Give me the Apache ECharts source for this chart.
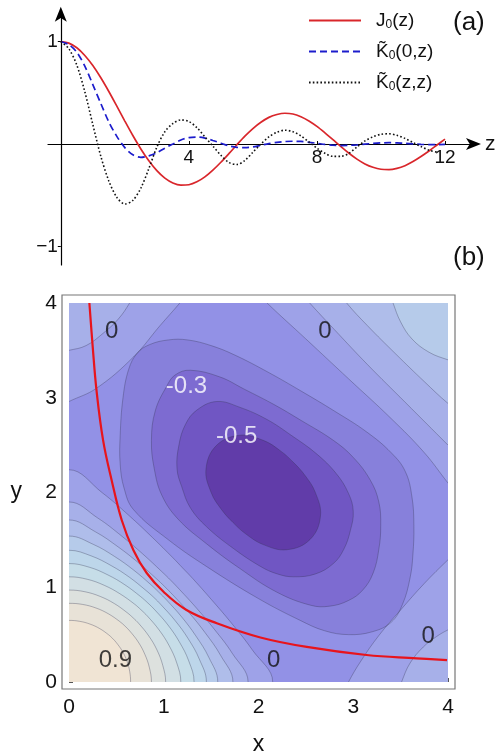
<!DOCTYPE html>
<html><head><meta charset="utf-8">
<script src="https://cdn.jsdelivr.net/npm/echarts@6/dist/echarts.min.js"></script>
<style>html,body{margin:0;padding:0;background:#fff}#c{width:503px;height:751px}</style>
</head><body><div id="c"></div><script>
// ---------- panel (a) data ----------
const zGrid = [0,0.25,0.5,0.75,1,1.25,1.5,1.75,2,2.25,2.5,2.75,3,3.25,3.5,3.75,4,4.25,4.5,4.75,5,5.25,5.5,5.75,6,6.25,6.5,6.75,7,7.25,7.5,7.75,8,8.25,8.5,8.75,9,9.25,9.5,9.75,10,10.25,10.5,10.75,11,11.25,11.5,11.75,12];
const j0Vals = [1,0.984,0.939,0.864,0.765,0.646,0.512,0.369,0.224,0.083,-0.048,-0.164,-0.260,-0.333,-0.380,-0.401,-0.397,-0.369,-0.321,-0.255,-0.178,-0.094,-0.007,0.077,0.151,0.212,0.260,0.288,0.300,0.293,0.266,0.225,0.172,0.109,0.042,-0.026,-0.090,-0.147,-0.194,-0.227,-0.246,-0.249,-0.237,-0.211,-0.171,-0.122,-0.068,-0.010,0.048];
const k00Vals = [1,0.97,0.895,0.76,0.58,0.395,0.215,0.075,-0.035,-0.105,-0.13,-0.115,-0.085,-0.04,0.0,0.04,0.062,0.068,0.058,0.035,0.008,-0.018,-0.033,-0.036,-0.028,-0.012,0.004,0.016,0.024,0.027,0.025,0.017,0.007,-0.004,-0.012,-0.015,-0.013,-0.008,-0.001,0.006,0.011,0.013,0.011,0.007,0.002,-0.003,-0.006,-0.006,-0.004];
const kzzVals = [1,0.93,0.77,0.51,0.19,-0.12,-0.36,-0.52,-0.585,-0.55,-0.43,-0.24,-0.03,0.12,0.2,0.235,0.22,0.16,0.07,-0.02,-0.11,-0.18,-0.2,-0.16,-0.08,0.0,0.07,0.115,0.135,0.12,0.08,0.02,-0.04,-0.09,-0.12,-0.12,-0.09,-0.03,0.03,0.07,0.095,0.1,0.085,0.055,0.015,-0.025,-0.06,-0.08];
const zTicks = [4,8,12];
const vTicks = [-1,1];

// ---------- panel (b) data ----------
const xyTicks = [0,1,2,3,4];
// band colours, by lower bound of band from -0.6 to 0.9 (step 0.1)
const bandColors = ['#613ca9','#7056c3','#7d6bd1','#8780db','#8d89e0','#9291e6','#9ea2e8','#a7b0e9','#afbdea','#b6cbea','#bdd6ea','#c6dde8','#d2dfe4','#dde1de','#e8e2d7','#f0e4d4'];
const backgroundBand = -0.1;
// bump around the origin: radii at given angles (deg)
const bumpAngles = [-10,0,10,20,30,40,45,50,60,70,80,90,100];
const bumpLevels = [0.0,0.1,0.2,0.3,0.4,0.5,0.6,0.7,0.8,0.9];
const bumpRadii = [
  [1.963,2.15,1.963,1.823,1.737,1.702,1.699,1.709,1.761,1.865,2.027,2.24,2.027],
  [1.749,1.89,1.749,1.631,1.556,1.521,1.518,1.522,1.559,1.636,1.756,1.90,1.756],
  [1.624,1.73,1.624,1.527,1.463,1.430,1.426,1.428,1.457,1.517,1.609,1.71,1.609],
  [1.498,1.57,1.498,1.424,1.373,1.345,1.340,1.342,1.364,1.409,1.475,1.54,1.475],
  [1.396,1.45,1.396,1.338,1.294,1.268,1.264,1.262,1.276,1.306,1.351,1.39,1.351],
  [1.283,1.32,1.283,1.239,1.205,1.183,1.178,1.176,1.183,1.202,1.230,1.25,1.230],
  [1.155,1.18,1.155,1.124,1.098,1.081,1.076,1.074,1.075,1.086,1.101,1.11,1.101],
  [1.005,1.02,1.005,0.988,0.972,0.961,0.957,0.955,0.956,0.961,0.967,0.97,0.967],
  [0.862,0.87,0.862,0.852,0.844,0.837,0.835,0.833,0.831,0.831,0.831,0.83,0.831],
  [0.65,0.65,0.65,0.65,0.65,0.65,0.65,0.65,0.65,0.65,0.65,0.65,0.65]
];
// closed loops around the minimum (value below level inside)
const basinLevels = [-0.2,-0.3,-0.4,-0.5];
const basinLoops = [
  [[0.63,3.3],[0.72,3.47],[0.85,3.56],[1.05,3.61],[1.25,3.61],[1.5,3.55],[1.75,3.45],[2.1,3.27],[2.45,3.07],[2.8,2.86],[3.14,2.64],[3.4,2.42],[3.55,2.22],[3.62,1.95],[3.64,1.65],[3.63,1.35],[3.6,1.1],[3.52,0.82],[3.4,0.63],[3.2,0.53],[2.95,0.5],[2.7,0.54],[2.44,0.65],[2.0,0.88],[1.45,1.22],[1.05,1.5],[0.68,1.82],[0.58,2.05],[0.54,2.3],[0.54,2.6],[0.57,3.0]],
  [[1.03,3.12],[1.12,3.24],[1.28,3.29],[1.59,3.22],[1.85,3.09],[2.16,2.93],[2.45,2.76],[2.79,2.55],[3.0,2.37],[3.18,2.13],[3.27,1.9],[3.29,1.65],[3.27,1.4],[3.21,1.15],[3.1,0.97],[2.95,0.86],[2.75,0.8],[2.55,0.81],[2.19,0.95],[1.8,1.2],[1.45,1.46],[1.15,1.72],[0.98,1.97],[0.9,2.25],[0.87,2.55],[0.91,2.86]],
  [[1.35,2.87],[1.56,2.96],[1.8,2.9],[2.09,2.77],[2.35,2.6],[2.61,2.41],[2.82,2.2],[2.95,1.99],[3.0,1.8],[2.97,1.6],[2.9,1.4],[2.79,1.25],[2.6,1.14],[2.37,1.11],[2.2,1.14],[2.02,1.22],[1.72,1.42],[1.45,1.64],[1.28,1.84],[1.19,2.06],[1.14,2.25],[1.16,2.5],[1.23,2.72]],
  [[2.368,2.318],[2.232,2.439],[2.05,2.55],[1.80,2.604],[1.555,2.495],[1.446,2.25],[1.50,2.0],[1.611,1.818],[1.732,1.682],[1.868,1.561],[2.05,1.45],[2.30,1.396],[2.545,1.505],[2.654,1.75],[2.60,2.0],[2.489,2.182]]
];
// contour lines cut by the frame (value above level towards the corner)
const cornerLevels = [0.0,0.1,0.0,0.1,0.0,0.1,0.2,0.3];
const cornerAnchors = [[-1,5],[-1,5],[5,-1],[5,-1],[5,5],[5,5],[5,5],[5,5]];
const cornerLines = [
  [[-0.12,2.9],[0,2.96],[0.29,3.1],[0.68,3.43],[0.96,3.76],[1.17,4],[1.28,4.14]],
  [[-0.12,3.48],[0,3.5],[0.18,3.55],[0.36,3.68],[0.52,3.83],[0.64,4],[0.7,4.12]],
  [[2.9,-0.12],[2.95,0],[3.08,0.22],[3.27,0.49],[3.5,0.76],[3.75,1.04],[4,1.29],[4.12,1.4]],
  [[3.47,-0.12],[3.51,0],[3.6,0.2],[3.74,0.37],[3.88,0.48],[4,0.55],[4.12,0.6]],
  [[1.98,4.12],[2.09,4],[2.5,3.62],[2.95,3.2],[3.4,2.78],[3.75,2.42],[4,2.1],[4.1,1.98]],
  [[2.44,4.12],[2.54,4],[2.8,3.72],[3.15,3.35],[3.55,2.95],[4,2.5],[4.12,2.38]],
  [[2.85,4.12],[2.93,4],[3.15,3.76],[3.45,3.46],[3.75,3.17],[4,2.94],[4.12,2.86]],
  [[3.38,4.12],[3.42,4],[3.5,3.8],[3.62,3.62],[3.8,3.48],[4,3.4],[4.12,3.37]]
];
// red curve
const redX = [0.215,0.25,0.29,0.36,0.45,0.556,0.68,0.82,1.0,1.24,1.56,2.02,2.51,3.14,3.67,3.99];
const redY = [4.0,3.54,3.08,2.55,2.13,1.71,1.39,1.15,0.95,0.76,0.62,0.47,0.37,0.285,0.25,0.23];
// contour labels
const labelX = [0.45,2.70,1.24,1.77,0.49,2.16,3.79];
const labelY = [3.70,3.70,3.12,2.59,0.23,0.23,0.48];
const labelText = ['0','0','-0.3','-0.5','0.9','0','0'];
const labelWhite = [false,false,true,true,false,false,false];

// ---------- build ----------
function bandColor(lower){
  let i = Math.round((lower + 0.6) * 10);
  i = Math.max(0, Math.min(bandColors.length - 1, i));
  return bandColors[i];
}
const D = Math.PI / 180;
const regions = [];
basinLoops.forEach((loop, k) => {
  regions.push({fill: loop, closed: true, color: bandColor(basinLevels[k] - 0.1)});
});
bumpLevels.forEach((lev, k) => {
  const arc = bumpAngles.map((a, j) => [bumpRadii[k][j] * Math.cos(a * D), bumpRadii[k][j] * Math.sin(a * D)]);
  regions.push({fill: arc.concat([[-1.5,-1.5]]), line: arc, closed: false, color: bandColor(lev)});
});
cornerLines.forEach((ln, k) => {
  regions.push({fill: ln.concat([cornerAnchors[k]]), line: ln, closed: false, color: bandColor(cornerLevels[k])});
});

const FONT = '"Liberation Sans", Arial, Helvetica, sans-serif';
const chart = echarts.init(document.getElementById('c'), null, {renderer: 'canvas'});
const legendNames = {J0: 'J{s|0}(z)', K0: 'K\u0303{s|0}(0,z)', Kz: 'K\u0303{s|0}(z,z)'};

const option = {
  animation: false,
  backgroundColor: '#fff',
  textStyle: {fontFamily: FONT},
  legend: {
    orient: 'vertical', left: 303, top: 6, itemWidth: 52, itemHeight: 14, itemGap: 11,
    data: ['J0','K0','Kz'],
    itemStyle: {opacity: 0},
    formatter: n => legendNames[n],
    textStyle: {fontSize: 19, color: '#111', fontFamily: FONT, padding: [0,0,0,10],
      rich: {s: {fontSize: 12, fontFamily: FONT, color: '#111', padding: [9,0,0,0]}}}
  },
  graphic: [
    {type: 'text', left: 453, top: 10, style: {text: '(a)', fontSize: 26, fontFamily: FONT, fill: '#111'}},
    {type: 'text', left: 453, top: 245, style: {text: '(b)', fontSize: 26, fontFamily: FONT, fill: '#111'}}
  ],
  grid: [
    {left: 48, top: 10.75, width: 429, height: 254.25, outerBoundsMode: 'none', containLabel: false},
    {left: 62, top: 295, width: 393, height: 394, show: true, borderColor: '#777', borderWidth: 1.2, backgroundColor: '#fff', outerBoundsMode: 'none', containLabel: false}
  ],
  xAxis: [
    {gridIndex: 0, type: 'value', min: -0.4, max: 13, position: 'bottom', offset: -121,
     axisLine: {onZero: false, symbol: ['none','arrow'], symbolSize: [9,15], symbolOffset: [0,4], lineStyle: {color: '#000', width: 1.2}},
     axisTick: {customValues: zTicks, inside: true, length: 3, lineStyle: {color: '#000'}},
     axisLabel: {customValues: zTicks, fontSize: 19, margin: 4, color: '#111', fontFamily: FONT},
     splitLine: {show: false},
     name: 'z', nameLocation: 'end', nameGap: 8, nameTextStyle: {fontSize: 21, color: '#111', fontFamily: FONT}},
    {gridIndex: 1, type: 'value', min: -0.074, max: 4.074,
     axisLine: {show: false},
     axisTick: {customValues: xyTicks, inside: true, length: 4, lineStyle: {color: '#555'}},
     axisLabel: {customValues: xyTicks, fontSize: 21, margin: 8, color: '#111', fontFamily: FONT},
     splitLine: {show: false},
     name: 'x', nameLocation: 'middle', nameGap: 44, nameTextStyle: {fontSize: 23, color: '#111', fontFamily: FONT}}
  ],
  yAxis: [
    {gridIndex: 0, type: 'value', min: -1.18, max: 1.3, position: 'left', offset: -12.8,
     axisLine: {onZero: false, symbol: ['none','arrow'], symbolSize: [9,15], symbolOffset: [0,4], lineStyle: {color: '#000', width: 1.2}},
     axisTick: {customValues: vTicks, length: 3, lineStyle: {color: '#000'}},
     axisLabel: {customValues: vTicks, fontSize: 19, margin: 3, color: '#111', fontFamily: FONT,
       formatter: v => v < 0 ? '\u2212' + Math.abs(v) : String(v)},
     splitLine: {show: false}},
    {gridIndex: 1, type: 'value', min: -0.074, max: 4.084,
     axisLine: {show: false},
     axisTick: {customValues: xyTicks, inside: true, length: 4, lineStyle: {color: '#555'}},
     axisLabel: {customValues: xyTicks, fontSize: 21, margin: 5, color: '#111', fontFamily: FONT},
     splitLine: {show: false},
     name: 'y', nameLocation: 'middle', nameRotate: 0, nameGap: 40, nameTextStyle: {fontSize: 23, color: '#111', fontFamily: FONT}}
  ],
  series: [
    {type: 'line', name: 'J0', xAxisIndex: 0, yAxisIndex: 0, data: zGrid.map((z,i) => [z, j0Vals[i]]),
     symbol: 'none', smooth: 0.3, lineStyle: {color: '#d9262b', width: 1.7}, itemStyle: {color: '#d9262b'}},
    {type: 'line', name: 'K0', xAxisIndex: 0, yAxisIndex: 0, data: zGrid.map((z,i) => [z, k00Vals[i]]),
     symbol: 'none', smooth: 0.3, lineStyle: {color: '#1c1ccc', width: 1.7, type: [7,4]}, itemStyle: {color: '#1c1ccc'}},
    {type: 'line', name: 'Kz', xAxisIndex: 0, yAxisIndex: 0, data: kzzVals.map((v,i) => [zGrid[i], v]),
     symbol: 'none', smooth: 0.3, lineStyle: {color: '#111', width: 1.6, type: [1.6,2.2]}, itemStyle: {color: '#111'}},
    {type: 'custom', xAxisIndex: 1, yAxisIndex: 1, silent: true, z: 1, data: [[0,0]],
     renderItem: function(params, api){
       const tl = api.coord([0,4]), br = api.coord([4,0]);
       const rect = {x: tl[0], y: tl[1], width: br[0]-tl[0], height: br[1]-tl[1]};
       const P = pts => pts.map(p => api.coord(p));
       const children = [{type: 'rect', shape: rect, style: {fill: bandColor(backgroundBand)}}];
       regions.forEach(r => children.push({type: 'polygon', shape: {points: P(r.fill), smooth: 0.4}, style: {fill: r.color}}));
       regions.forEach(r => children.push({type: r.closed ? 'polygon' : 'polyline', shape: {points: P(r.closed ? r.fill : r.line), smooth: 0.4}, style: {fill: null, stroke: 'rgba(50,50,80,0.42)', lineWidth: 0.8}}));
       return {type: 'group', clipPath: {type: 'rect', shape: rect}, children};
     }},
    {type: 'line', name: 'red', xAxisIndex: 1, yAxisIndex: 1, z: 5, data: redX.map((x,i) => [x, redY[i]]),
     symbol: 'none', smooth: 0.4, lineStyle: {color: '#e8141c', width: 2.2}},
    {type: 'scatter', xAxisIndex: 1, yAxisIndex: 1, z: 6, symbolSize: 0, silent: true,
     data: labelX.map((x,i) => ({value: [x, labelY[i]], label: {color: labelWhite[i] ? '#fff' : '#111'}})),
     label: {show: true, position: 'inside', fontSize: 24, fontFamily: FONT, formatter: p => labelText[p.dataIndex]}}
  ]
};
chart.setOption(option);
</script></body></html>
